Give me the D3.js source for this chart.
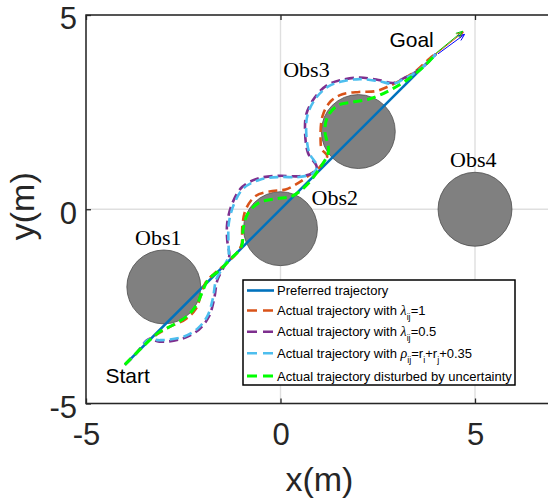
<!DOCTYPE html>
<html>
<head>
<meta charset="utf-8">
<script src="https://cdn.jsdelivr.net/npm/d3@7"></script>
<style>
	body { margin: 0; background: #fff; }
	svg { display: block; }
	.tick text { font-family: 'Liberation Sans', Arial, sans-serif; font-size: 31px; fill: #262626; }
	.tick line { stroke: #262626; stroke-width: 1.3; }
	.axis-label { font-family: 'Liberation Sans', Arial, sans-serif; font-size: 34px; fill: #262626; }
	.obs-label { font-family: 'Liberation Serif', 'Times New Roman', serif; font-size: 22px; fill: #000; }
	.point-label { font-family: 'Liberation Sans', Arial, sans-serif; font-size: 21px; fill: #000; }
	.legend text { font-family: 'Liberation Sans', Arial, sans-serif; font-size: 13px; fill: #000; }
</style>
</head>
<body>
<svg width="548" height="501"></svg>
<script>
// obstacles
const obsNames = ['Obs1', 'Obs2', 'Obs3', 'Obs4'];
const obsX = [-3, 0, 2, 5];
const obsY = [-2, -0.5, 2, 0];
const obsR = [0.95, 0.95, 0.95, 0.95];

// preferred straight path, start -> goal
const preferredX = [-4, 4];
const preferredY = [-4, 4];

// actual trajectory, lambda_ij = 1
const lambda1X = [-4, -3.7, -3.38, -2.87, -2.44, -2.18, -2.05, -1.92, -1.67, -1.4, -1.1, -1.0, -0.98, -0.89, -0.64, -0.21, 0.13, 0.48, 0.82, 1.02, 1.2, 1.06, 1.03, 1.08, 1.29, 1.59, 2.02, 2.45, 2.79, 3.13, 3.48, 3.9, 4];
const lambda1Y = [-4, -3.7, -3.36, -3.04, -2.83, -2.57, -2.23, -1.88, -1.63, -1.4, -1.1, -0.9, -0.43, 0, 0.34, 0.47, 0.51, 0.69, 0.94, 1.1, 1.37, 1.55, 1.8, 2.4, 2.78, 2.96, 3.02, 3.04, 3.17, 3.34, 3.56, 3.94, 4];

// actual trajectory, lambda_ij = 0.5
const lambda05X = [-4, -3.7, -3.38, -3.12, -2.52, -2.1, -1.84, -1.71, -1.62, -1.45, -1.32, -1.37, -1.37, -1.24, -0.98, -0.55, -0.04, 0.48, 0.82, 0.93, 0.71, 0.63, 0.67, 0.89, 1.19, 1.53, 2.04, 2.56, 2.9, 3.16, 3.41, 3.76, 4];
const lambda05Y = [-4, -3.7, -3.34, -3.41, -3.33, -3.1, -2.76, -2.33, -1.82, -1.48, -1.22, -0.79, -0.36, 0.15, 0.58, 0.8, 0.86, 0.85, 0.93, 1.09, 1.44, 2.04, 2.47, 2.89, 3.19, 3.32, 3.39, 3.32, 3.25, 3.37, 3.49, 3.75, 4];

// actual trajectory, rho_ij = r_i + r_j + 0.35
const rhoX = [-4, -3.7, -3.38, -3.1, -2.52, -2.12, -1.87, -1.74, -1.65, -1.46, -1.34, -1.34, -1.33, -1.2, -0.95, -0.53, -0.04, 0.47, 0.82, 0.94, 0.74, 0.66, 0.7, 0.91, 1.21, 1.54, 2.04, 2.55, 2.9, 3.16, 3.41, 3.76, 4];
const rhoY = [-4, -3.7, -3.35, -3.37, -3.29, -3.06, -2.73, -2.3, -1.8, -1.47, -1.22, -0.8, -0.37, 0.12, 0.54, 0.76, 0.83, 0.83, 0.92, 1.1, 1.45, 2.03, 2.45, 2.86, 3.15, 3.28, 3.35, 3.29, 3.23, 3.35, 3.48, 3.75, 4];

// actual trajectory disturbed by uncertainty
const noisyX = [-4, -3.5, -3.1, -2.8, -2.4, -2.15, -2.0, -1.85, -1.6, -1.3, -1.0, -0.96, -0.85, -0.55, -0.12, 0.3, 0.65, 0.99, 1.23, 1.14, 1.23, 1.49, 1.87, 2.26, 2.56, 2.9, 3.24, 3.67, 4];
const noisyY = [-4, -3.5, -3.15, -3.0, -2.75, -2.45, -2.1, -1.8, -1.6, -1.3, -0.95, -0.51, -0.13, 0.17, 0.27, 0.34, 0.6, 1.03, 1.48, 2.04, 2.42, 2.68, 2.76, 2.83, 2.94, 3.11, 3.32, 3.66, 4];

// heading arrows at the goal: [x0, y0, x1, y1]
const arrowGreen = [4.0, 4.02, 4.68, 4.58];
const arrowOrange = [4.0, 4.0, 4.7, 4.56];
const arrowBlue = [4.05, 4.0, 4.73, 4.5];

const xTicks = [-5, 0, 5];
const yTicks = [-5, 0, 5];

const svg = d3.select('svg');

const x = d3.scaleLinear().domain([-5, 7]).range([86, 86 + 12 * 38.9]);
const y = d3.scaleLinear().domain([-5, 5]).range([403.5, 15]);

const zip = (xs, ys) => xs.map((v, i) => [v, ys[i]]);
const fmt = (d) => String(d);

svg.append('defs').append('clipPath').attr('id', 'plot')
	.append('rect')
	.attr('x', x(-5)).attr('y', y(5))
	.attr('width', x(7) - x(-5)).attr('height', y(-5) - y(5));

// grid
const grid = svg.append('g').attr('stroke', '#dfdfdf').attr('stroke-width', 1.4);
xTicks.forEach((t) => {
	grid.append('line').attr('x1', x(t)).attr('x2', x(t)).attr('y1', y(-5)).attr('y2', y(5));
});
yTicks.forEach((t) => {
	grid.append('line').attr('x1', x(-5)).attr('x2', x(7)).attr('y1', y(t)).attr('y2', y(t));
});

// axes
const xAxis = d3.axisBottom(x).tickValues(xTicks).tickSizeInner(-5).tickSizeOuter(0).tickPadding(19)
	.tickFormat(fmt);
svg.append('g')
	.attr('transform', `translate(0 ${y(-5)})`)
	.call(xAxis)
	.call((g) => g.select('.domain').remove());

const yAxis = d3.axisLeft(y).tickValues(yTicks).tickSizeInner(-5).tickSizeOuter(0).tickPadding(9)
	.tickFormat(fmt);
svg.append('g')
	.attr('transform', `translate(${x(-5)} 0)`)
	.call(yAxis)
	.call((g) => g.select('.domain').remove())
	.selectAll('text').attr('dy', '0.45em');

// top ticks (box on)
svg.append('g')
	.attr('transform', `translate(0 ${y(5)})`)
	.call(d3.axisTop(x).tickValues(xTicks).tickSizeInner(-5).tickSizeOuter(0).tickFormat(''))
	.call((g) => g.select('.domain').remove());

svg.append('rect')
	.attr('x', x(-5)).attr('y', y(5))
	.attr('width', x(7) - x(-5)).attr('height', y(-5) - y(5))
	.attr('fill', 'none').attr('stroke', '#262626').attr('stroke-width', 1.5);

svg.append('text').attr('class', 'axis-label')
	.attr('x', (x(-5) + x(7)) / 2).attr('y', 491)
	.attr('text-anchor', 'middle')
	.text('x(m)');

svg.append('text').attr('class', 'axis-label')
	.attr('transform', `translate(34 ${y(0) - 3}) rotate(-90)`)
	.attr('text-anchor', 'middle')
	.text('y(m)');

const plot = svg.append('g').attr('clip-path', 'url(#plot)');

// obstacles
plot.selectAll('.obs')
	.data(obsNames)
	.enter()
	.append('circle')
	.attr('class', 'obs')
	.attr('cx', (d, i) => x(obsX[i]))
	.attr('cy', (d, i) => y(obsY[i]))
	.attr('r', (d, i) => x(obsR[i]) - x(0))
	.attr('fill', '#808080')
	.attr('stroke', '#4d4d4d')
	.attr('stroke-width', 0.8);

const line = d3.line()
	.x((d) => x(d[0]))
	.y((d) => y(d[1]))
	.curve(d3.curveCatmullRom.alpha(0.5));

const series = [
	{ pts: zip(preferredX, preferredY), color: '#0072BD', width: 2.6, dash: null },
	{ pts: zip(lambda1X, lambda1Y), color: '#D95319', width: 2.6, dash: '9,5' },
	{ pts: zip(lambda05X, lambda05Y), color: '#7E2F8E', width: 2.6, dash: '9,5' },
	{ pts: zip(rhoX, rhoY), color: '#4DBEEE', width: 2.6, dash: '9,5' },
	{ pts: zip(noisyX, noisyY), color: '#00FF00', width: 3, dash: '9,5' }
];

series.forEach((s) => {
	plot.append('path')
		.attr('d', line(s.pts))
		.attr('fill', 'none')
		.attr('stroke', s.color)
		.attr('stroke-width', s.width)
		.attr('stroke-dasharray', s.dash);
});

// heading arrows
[[arrowOrange, '#D95319'], [arrowBlue, '#0000FF'], [arrowGreen, '#00CC00']].forEach(([a, color]) => {
	const x0 = x(a[0]), y0 = y(a[1]), x1 = x(a[2]), y1 = y(a[3]);
	const ang = Math.atan2(y1 - y0, x1 - x0);
	const head = 7;
	const hx1 = x1 - head * Math.cos(ang - 0.4), hy1 = y1 - head * Math.sin(ang - 0.4);
	const hx2 = x1 - head * Math.cos(ang + 0.4), hy2 = y1 - head * Math.sin(ang + 0.4);
	plot.append('path')
		.attr('d', `M ${x0} ${y0} L ${x1} ${y1} M ${hx1} ${hy1} L ${x1} ${y1} L ${hx2} ${hy2}`)
		.attr('fill', 'none')
		.attr('stroke', color)
		.attr('stroke-width', 1);
});

// labels
const obsLabelX = [-3.74, 0.8, 0.07, 4.36];
const obsLabelY = [-0.92, 0.11, 3.4, 1.08];
svg.selectAll('.obs-label')
	.data(obsNames)
	.enter()
	.append('text')
	.attr('class', 'obs-label')
	.attr('x', (d, i) => x(obsLabelX[i]))
	.attr('y', (d, i) => y(obsLabelY[i]))
	.text((d) => d);

svg.append('text').attr('class', 'point-label').attr('x', x(-4.5)).attr('y', y(-4.48)).text('Start');
svg.append('text').attr('class', 'point-label').attr('x', x(2.8)).attr('y', y(4.17)).text('Goal');

// legend
const legendItems = [
	[{ t: 'Preferred trajectory' }],
	[{ t: 'Actual trajectory with ' }, { t: 'λ', greek: true }, { t: 'ij', sub: true }, { t: '=1' }],
	[{ t: 'Actual trajectory with ' }, { t: 'λ', greek: true }, { t: 'ij', sub: true }, { t: '=0.5' }],
	[{ t: 'Actual trajectory with ' }, { t: 'ρ', greek: true }, { t: 'ij', sub: true }, { t: '=r' }, { t: 'i', sub: true }, { t: '+r' }, { t: 'j', sub: true }, { t: '+0.35' }],
	[{ t: 'Actual trajectory disturbed by uncertainty' }]
];
const legendRowY = [290.5, 310.5, 331.7, 353.3, 376];

const legend = svg.append('g').attr('class', 'legend');
legend.append('rect')
	.attr('x', 243).attr('y', 280).attr('width', 272).attr('height', 105)
	.attr('fill', '#fff').attr('stroke', '#000').attr('stroke-width', 1.5);

legendItems.forEach((parts, i) => {
	const s = series[i];
	const ly = legendRowY[i];
	legend.append('line')
		.attr('x1', 247).attr('x2', 274).attr('y1', ly).attr('y2', ly)
		.attr('stroke', s.color)
		.attr('stroke-width', s.width)
		.attr('stroke-dasharray', s.dash ? '10,6' : null);

	const text = legend.append('text').attr('x', 277).attr('y', ly + 4.5);
	let shifted = false;
	parts.forEach((p) => {
		const span = text.append('tspan').text(p.t);
		if (p.sub) {
			span.attr('dy', 5).attr('font-size', '9px');
			shifted = true;
		} else if (shifted) {
			span.attr('dy', -5);
			shifted = false;
		}
		if (p.greek) {
			span.attr('font-family', "'Liberation Serif', serif").attr('font-style', 'italic').attr('font-size', '14px');
		}
	});
});
</script>
</body>
</html>
